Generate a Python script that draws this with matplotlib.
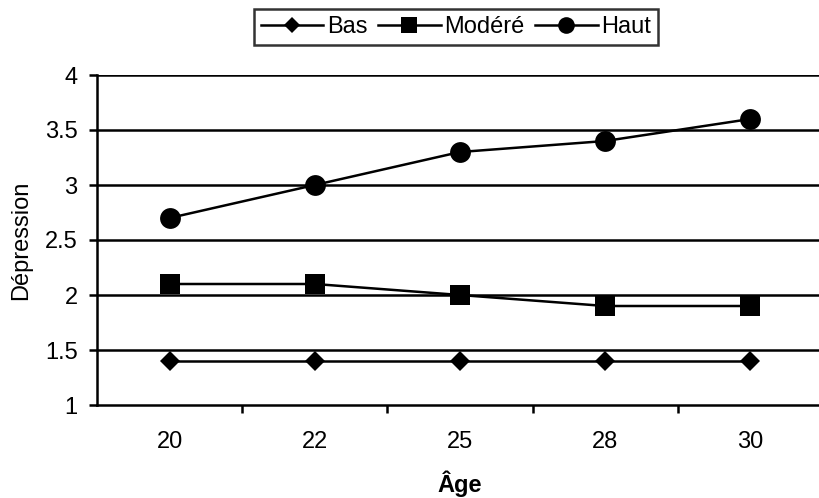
import matplotlib.pyplot as plt

plt.rcParams['font.family'] = ['Liberation Sans', 'DejaVu Sans']

ages = ['20', '22', '25', '28', '30']
bas = [1.4, 1.4, 1.4, 1.4, 1.4]
modere = [2.1, 2.1, 2.0, 1.9, 1.9]
haut = [2.7, 3.0, 3.3, 3.4, 3.6]

fs = 17

fig = plt.figure(figsize=(8.2, 4.98), dpi=100)
# right edge sits just past the figure border
ax = fig.add_axes([97/820, (498-405)/498, (823-97)/820, 330/498])

x = range(len(ages))
ax.plot(x, bas, color='black', lw=1.8, marker='D', ms=10.5, mew=0, label='Bas', zorder=3)
ax.plot(x, modere, color='black', lw=1.8, marker='s', ms=14.5, mew=0, label='Modéré', zorder=3)
ax.plot(x, haut, color='black', lw=1.8, marker='o', ms=15, mew=0, label='Haut', zorder=3)

ax.set_xlim(-0.5, 4.5)
ax.set_ylim(1, 4)
ax.set_yticks([1, 1.5, 2, 2.5, 3, 3.5, 4])
ax.set_yticklabels(['1', '1.5', '2', '2.5', '3', '3.5', '4'])
for v in [1.5, 2, 2.5, 3, 3.5, 4]:
    ax.axhline(v, color='black', lw=1.8, zorder=1)

# category labels centred, tick marks on the boundaries
ax.set_xticks([0.5, 1.5, 2.5, 3.5, 4.5])
ax.set_xticklabels([])
ax.set_xticks(list(x), minor=True)
ax.set_xticklabels(ages, minor=True)
ax.tick_params(axis='x', which='minor', length=0, pad=19, labelsize=fs)
ax.tick_params(axis='x', which='major', length=6, width=1.8, direction='out')
ax.tick_params(axis='y', length=6, width=1.8, direction='out', pad=8, labelsize=fs)

for s in ['top', 'right']:
    ax.spines[s].set_visible(False)
ax.spines['left'].set_linewidth(1.8)
ax.spines['bottom'].set_linewidth(1.8)

ax.set_xlabel('Âge', fontsize=fs, fontweight='bold', labelpad=12)
ax.set_ylabel('Dépression', fontsize=fs, labelpad=9)

leg = fig.legend(loc='center', bbox_to_anchor=(456/820, 1 - 27/498), ncol=3,
                 frameon=True, fancybox=False, edgecolor='black', fontsize=fs,
                 handlelength=2.65, handletextpad=0.15, columnspacing=0.45,
                 borderpad=0.3, borderaxespad=0, markerscale=0.8)
leg.get_frame().set_linewidth(1.8)

fig.savefig('out.png', dpi=100)
